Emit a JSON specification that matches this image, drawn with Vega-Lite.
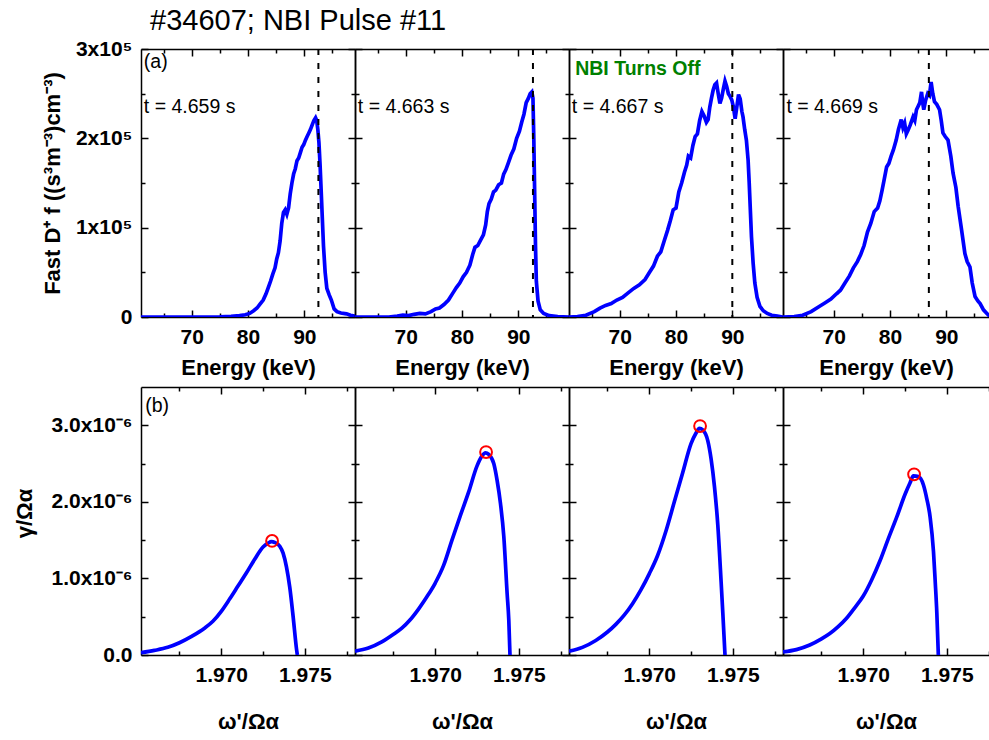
{
  "$schema": "https://vega.github.io/schema/vega-lite/v6.json",
  "padding": {"left": 13, "top": 7, "right": 0, "bottom": 15},
  "title": {"text": "#34607; NBI Pulse #11", "anchor": "start", "font": "Liberation Sans", "fontSize": 29, "fontWeight": "normal", "color": "black", "offset": 2, "dx": 137},
  "columns": 4,
  "spacing": {"row": 70, "column": 0},
  "bounds": "flush",
  "datasets": {
    "topCurves": [
      {"panel":1,"energy":61,"f":0},{"panel":1,"energy":70,"f":0},{"panel":1,"energy":75,"f":300},{"panel":1,"energy":77,"f":800},{"panel":1,"energy":78.5,"f":1500},{"panel":1,"energy":79.5,"f":2500},{"panel":1,"energy":80.3,"f":4000},{"panel":1,"energy":81,"f":7000},{"panel":1,"energy":81.6,"f":10000},{"panel":1,"energy":82.2,"f":15000},{"panel":1,"energy":82.7,"f":19000},{"panel":1,"energy":83.2,"f":26000},{"panel":1,"energy":83.6,"f":33000},{"panel":1,"energy":84,"f":40000},{"panel":1,"energy":84.4,"f":48000},{"panel":1,"energy":84.8,"f":55000},{"panel":1,"energy":85.1,"f":65000},{"panel":1,"energy":85.4,"f":72000},{"panel":1,"energy":85.7,"f":85000},{"panel":1,"energy":86,"f":105000},{"panel":1,"energy":86.3,"f":117000},{"panel":1,"energy":86.6,"f":120000},{"panel":1,"energy":86.9,"f":115000},{"panel":1,"energy":87.2,"f":122000},{"panel":1,"energy":87.5,"f":138000},{"panel":1,"energy":87.8,"f":150000},{"panel":1,"energy":88.1,"f":160000},{"panel":1,"energy":88.4,"f":166000},{"panel":1,"energy":88.7,"f":175000},{"panel":1,"energy":89,"f":178000},{"panel":1,"energy":89.3,"f":184000},{"panel":1,"energy":89.6,"f":190000},{"panel":1,"energy":89.9,"f":193000},{"panel":1,"energy":90.2,"f":198000},{"panel":1,"energy":90.5,"f":202000},{"panel":1,"energy":90.8,"f":206000},{"panel":1,"energy":91.1,"f":210000},{"panel":1,"energy":91.4,"f":215000},{"panel":1,"energy":91.7,"f":220000},{"panel":1,"energy":92,"f":223000},{"panel":1,"energy":92.2,"f":220000},{"panel":1,"energy":92.4,"f":210000},{"panel":1,"energy":92.6,"f":195000},{"panel":1,"energy":92.8,"f":170000},{"panel":1,"energy":93,"f":140000},{"panel":1,"energy":93.2,"f":110000},{"panel":1,"energy":93.4,"f":80000},{"panel":1,"energy":93.7,"f":50000},{"panel":1,"energy":94,"f":32000},{"panel":1,"energy":94.4,"f":25000},{"panel":1,"energy":94.8,"f":19000},{"panel":1,"energy":95.3,"f":9000},{"panel":1,"energy":95.8,"f":6000},{"panel":1,"energy":96.5,"f":4500},{"panel":1,"energy":97.5,"f":3500},{"panel":1,"energy":98.2,"f":2000},{"panel":1,"energy":99,"f":1000},
      {"panel":2,"energy":61,"f":0},{"panel":2,"energy":67,"f":0},{"panel":2,"energy":68.5,"f":1000},{"panel":2,"energy":69.5,"f":2000},{"panel":2,"energy":70.5,"f":1500},{"panel":2,"energy":71.5,"f":3000},{"panel":2,"energy":72.5,"f":4000},{"panel":2,"energy":73.5,"f":3500},{"panel":2,"energy":74.5,"f":6000},{"panel":2,"energy":75.3,"f":9000},{"panel":2,"energy":76,"f":10000},{"panel":2,"energy":76.8,"f":14000},{"panel":2,"energy":77.6,"f":19000},{"panel":2,"energy":78.4,"f":27000},{"panel":2,"energy":79,"f":33000},{"panel":2,"energy":79.6,"f":38000},{"panel":2,"energy":80.2,"f":45000},{"panel":2,"energy":80.8,"f":50000},{"panel":2,"energy":81.4,"f":58000},{"panel":2,"energy":81.9,"f":70000},{"panel":2,"energy":82.3,"f":78000},{"panel":2,"energy":82.8,"f":80000},{"panel":2,"energy":83.3,"f":86000},{"panel":2,"energy":83.8,"f":92000},{"panel":2,"energy":84.2,"f":103000},{"panel":2,"energy":84.5,"f":118000},{"panel":2,"energy":84.8,"f":127000},{"panel":2,"energy":85.2,"f":132000},{"panel":2,"energy":85.6,"f":140000},{"panel":2,"energy":86,"f":142000},{"panel":2,"energy":86.5,"f":148000},{"panel":2,"energy":87,"f":150000},{"panel":2,"energy":87.4,"f":160000},{"panel":2,"energy":87.8,"f":165000},{"panel":2,"energy":88.2,"f":172000},{"panel":2,"energy":88.7,"f":181000},{"panel":2,"energy":89.2,"f":188000},{"panel":2,"energy":89.7,"f":200000},{"panel":2,"energy":90.2,"f":208000},{"panel":2,"energy":90.6,"f":218000},{"panel":2,"energy":91,"f":227000},{"panel":2,"energy":91.4,"f":240000},{"panel":2,"energy":91.8,"f":245000},{"panel":2,"energy":92.1,"f":250000},{"panel":2,"energy":92.4,"f":252000},{"panel":2,"energy":92.6,"f":245000},{"panel":2,"energy":92.75,"f":200000},{"panel":2,"energy":92.9,"f":140000},{"panel":2,"energy":93.05,"f":80000},{"panel":2,"energy":93.2,"f":40000},{"panel":2,"energy":93.5,"f":18000},{"panel":2,"energy":93.9,"f":8000},{"panel":2,"energy":94.5,"f":4000},{"panel":2,"energy":95.5,"f":1500},{"panel":2,"energy":97,"f":500},{"panel":2,"energy":99,"f":0},
      {"panel":3,"energy":61,"f":0},{"panel":3,"energy":62.5,"f":500},{"panel":3,"energy":64,"f":2000},{"panel":3,"energy":65.5,"f":6000},{"panel":3,"energy":66.5,"f":10000},{"panel":3,"energy":67.5,"f":13000},{"panel":3,"energy":68.5,"f":15000},{"panel":3,"energy":69.5,"f":19000},{"panel":3,"energy":70.5,"f":22000},{"panel":3,"energy":71.5,"f":27000},{"panel":3,"energy":72.5,"f":32000},{"panel":3,"energy":73.5,"f":36000},{"panel":3,"energy":74.5,"f":42000},{"panel":3,"energy":75.3,"f":50000},{"panel":3,"energy":76,"f":57000},{"panel":3,"energy":76.7,"f":68000},{"panel":3,"energy":77.3,"f":73000},{"panel":3,"energy":77.9,"f":85000},{"panel":3,"energy":78.5,"f":97000},{"panel":3,"energy":79,"f":108000},{"panel":3,"energy":79.5,"f":120000},{"panel":3,"energy":80,"f":122000},{"panel":3,"energy":80.5,"f":140000},{"panel":3,"energy":81,"f":150000},{"panel":3,"energy":81.5,"f":162000},{"panel":3,"energy":81.9,"f":170000},{"panel":3,"energy":82.2,"f":180000},{"panel":3,"energy":82.6,"f":178000},{"panel":3,"energy":83,"f":192000},{"panel":3,"energy":83.4,"f":202000},{"panel":3,"energy":83.8,"f":205000},{"panel":3,"energy":84.2,"f":220000},{"panel":3,"energy":84.6,"f":230000},{"panel":3,"energy":85,"f":225000},{"panel":3,"energy":85.4,"f":218000},{"panel":3,"energy":85.7,"f":221000},{"panel":3,"energy":86,"f":235000},{"panel":3,"energy":86.3,"f":245000},{"panel":3,"energy":86.6,"f":254000},{"panel":3,"energy":86.9,"f":260000},{"panel":3,"energy":87.2,"f":262000},{"panel":3,"energy":87.5,"f":250000},{"panel":3,"energy":87.8,"f":239000},{"panel":3,"energy":88.1,"f":245000},{"panel":3,"energy":88.4,"f":255000},{"panel":3,"energy":88.7,"f":264000},{"panel":3,"energy":89,"f":258000},{"panel":3,"energy":89.3,"f":250000},{"panel":3,"energy":89.6,"f":247000},{"panel":3,"energy":89.9,"f":243000},{"panel":3,"energy":90.2,"f":235000},{"panel":3,"energy":90.5,"f":222000},{"panel":3,"energy":90.8,"f":235000},{"panel":3,"energy":91.1,"f":249000},{"panel":3,"energy":91.4,"f":244000},{"panel":3,"energy":91.7,"f":230000},{"panel":3,"energy":91.9,"f":224000},{"panel":3,"energy":92.2,"f":210000},{"panel":3,"energy":92.5,"f":198000},{"panel":3,"energy":92.8,"f":176000},{"panel":3,"energy":93,"f":150000},{"panel":3,"energy":93.2,"f":120000},{"panel":3,"energy":93.4,"f":90000},{"panel":3,"energy":93.7,"f":60000},{"panel":3,"energy":94,"f":38000},{"panel":3,"energy":94.4,"f":22000},{"panel":3,"energy":94.9,"f":12000},{"panel":3,"energy":95.5,"f":7000},{"panel":3,"energy":96.2,"f":4000},{"panel":3,"energy":97,"f":2000},{"panel":3,"energy":98,"f":1000},{"panel":3,"energy":99,"f":0},
      {"panel":4,"energy":61,"f":0},{"panel":4,"energy":63,"f":500},{"panel":4,"energy":64.5,"f":2000},{"panel":4,"energy":66,"f":6000},{"panel":4,"energy":67.5,"f":12000},{"panel":4,"energy":68.5,"f":16000},{"panel":4,"energy":69.5,"f":20000},{"panel":4,"energy":70.5,"f":26000},{"panel":4,"energy":71.2,"f":30000},{"panel":4,"energy":72,"f":38000},{"panel":4,"energy":72.8,"f":46000},{"panel":4,"energy":73.5,"f":55000},{"panel":4,"energy":74.2,"f":62000},{"panel":4,"energy":74.8,"f":70000},{"panel":4,"energy":75.4,"f":80000},{"panel":4,"energy":76,"f":95000},{"panel":4,"energy":76.6,"f":105000},{"panel":4,"energy":77.2,"f":118000},{"panel":4,"energy":77.8,"f":122000},{"panel":4,"energy":78.2,"f":130000},{"panel":4,"energy":78.6,"f":142000},{"panel":4,"energy":79,"f":155000},{"panel":4,"energy":79.4,"f":168000},{"panel":4,"energy":79.8,"f":172000},{"panel":4,"energy":80.2,"f":180000},{"panel":4,"energy":80.6,"f":187000},{"panel":4,"energy":81.1,"f":198000},{"panel":4,"energy":81.5,"f":210000},{"panel":4,"energy":82,"f":221000},{"panel":4,"energy":82.3,"f":212000},{"panel":4,"energy":82.6,"f":217000},{"panel":4,"energy":82.9,"f":205000},{"panel":4,"energy":83.2,"f":209000},{"panel":4,"energy":83.6,"f":215000},{"panel":4,"energy":84.1,"f":224000},{"panel":4,"energy":84.4,"f":220000},{"panel":4,"energy":84.7,"f":232000},{"panel":4,"energy":85,"f":236000},{"panel":4,"energy":85.3,"f":240000},{"panel":4,"energy":85.6,"f":252000},{"panel":4,"energy":85.8,"f":240000},{"panel":4,"energy":86,"f":232000},{"panel":4,"energy":86.3,"f":242000},{"panel":4,"energy":86.7,"f":250000},{"panel":4,"energy":87,"f":248000},{"panel":4,"energy":87.3,"f":263000},{"panel":4,"energy":87.6,"f":250000},{"panel":4,"energy":87.9,"f":241000},{"panel":4,"energy":88.3,"f":238000},{"panel":4,"energy":88.8,"f":232000},{"panel":4,"energy":89.1,"f":220000},{"panel":4,"energy":89.4,"f":206000},{"panel":4,"energy":89.8,"f":202000},{"panel":4,"energy":90.3,"f":198000},{"panel":4,"energy":90.8,"f":180000},{"panel":4,"energy":91.2,"f":161000},{"panel":4,"energy":91.7,"f":145000},{"panel":4,"energy":92.1,"f":124000},{"panel":4,"energy":92.7,"f":98000},{"panel":4,"energy":93.3,"f":71000},{"panel":4,"energy":93.7,"f":62000},{"panel":4,"energy":94.2,"f":56000},{"panel":4,"energy":94.6,"f":38000},{"panel":4,"energy":95.1,"f":23000},{"panel":4,"energy":95.6,"f":18000},{"panel":4,"energy":96,"f":15000},{"panel":4,"energy":96.6,"f":8000},{"panel":4,"energy":97.2,"f":4000},{"panel":4,"energy":97.5,"f":2000},{"panel":4,"energy":98,"f":1000}
    ],
    "topMarkers": [
      {"panel":1,"energy":92.5},{"panel":2,"energy":92.6},{"panel":3,"energy":90.0},{"panel":4,"energy":86.9}
    ],
    "topNotes": [
      {"panel":1,"energy":61.5,"f":285500,"label":"(a)"},
      {"panel":1,"energy":61.5,"f":235000,"label":"t = 4.659 s"},
      {"panel":2,"energy":61.5,"f":235000,"label":"t = 4.663 s"},
      {"panel":3,"energy":61.5,"f":235000,"label":"t = 4.667 s"},
      {"panel":4,"energy":61.6,"f":235000,"label":"t = 4.669 s"}
    ],
    "nbiNote": [
      {"panel":3,"energy":62.1,"f":278000,"label":"NBI Turns Off"}
    ],
    "growth": [
      {"panel":1,"omega":1.9652,"g":0.03e-6},{"panel":1,"omega":1.966,"g":0.06e-6},{"panel":1,"omega":1.9668,"g":0.1e-6},{"panel":1,"omega":1.9675,"g":0.16e-6},{"panel":1,"omega":1.9682,"g":0.24e-6},{"panel":1,"omega":1.969,"g":0.35e-6},{"panel":1,"omega":1.9695,"g":0.44e-6},{"panel":1,"omega":1.97,"g":0.57e-6},{"panel":1,"omega":1.9705,"g":0.73e-6},{"panel":1,"omega":1.971,"g":0.9e-6},{"panel":1,"omega":1.9715,"g":1.07e-6},{"panel":1,"omega":1.972,"g":1.25e-6},{"panel":1,"omega":1.9725,"g":1.41e-6},{"panel":1,"omega":1.9728,"g":1.46e-6},{"panel":1,"omega":1.973,"g":1.48e-6},{"panel":1,"omega":1.9732,"g":1.47e-6},{"panel":1,"omega":1.9735,"g":1.42e-6},{"panel":1,"omega":1.9737,"g":1.33e-6},{"panel":1,"omega":1.9739,"g":1.15e-6},{"panel":1,"omega":1.9741,"g":0.88e-6},{"panel":1,"omega":1.9743,"g":0.5e-6},{"panel":1,"omega":1.9745,"g":0.08e-6},{"panel":1,"omega":1.97455,"g":0},
      {"panel":2,"omega":1.9652,"g":0.05e-6},{"panel":2,"omega":1.966,"g":0.09e-6},{"panel":2,"omega":1.9668,"g":0.17e-6},{"panel":2,"omega":1.9675,"g":0.27e-6},{"panel":2,"omega":1.968,"g":0.35e-6},{"panel":2,"omega":1.9685,"g":0.46e-6},{"panel":2,"omega":1.969,"g":0.6e-6},{"panel":2,"omega":1.9695,"g":0.76e-6},{"panel":2,"omega":1.97,"g":0.94e-6},{"panel":2,"omega":1.9705,"g":1.17e-6},{"panel":2,"omega":1.971,"g":1.5e-6},{"panel":2,"omega":1.9715,"g":1.82e-6},{"panel":2,"omega":1.972,"g":2.13e-6},{"panel":2,"omega":1.9725,"g":2.47e-6},{"panel":2,"omega":1.9728,"g":2.6e-6},{"panel":2,"omega":1.973,"g":2.64e-6},{"panel":2,"omega":1.9732,"g":2.62e-6},{"panel":2,"omega":1.9735,"g":2.5e-6},{"panel":2,"omega":1.9737,"g":2.28e-6},{"panel":2,"omega":1.9739,"g":1.98e-6},{"panel":2,"omega":1.9741,"g":1.55e-6},{"panel":2,"omega":1.9743,"g":0.8e-6},{"panel":2,"omega":1.9744,"g":0.45e-6},{"panel":2,"omega":1.97447,"g":0},
      {"panel":3,"omega":1.9652,"g":0.05e-6},{"panel":3,"omega":1.966,"g":0.1e-6},{"panel":3,"omega":1.9668,"g":0.19e-6},{"panel":3,"omega":1.9675,"g":0.3e-6},{"panel":3,"omega":1.968,"g":0.4e-6},{"panel":3,"omega":1.9685,"g":0.52e-6},{"panel":3,"omega":1.969,"g":0.67e-6},{"panel":3,"omega":1.9695,"g":0.85e-6},{"panel":3,"omega":1.97,"g":1.06e-6},{"panel":3,"omega":1.9705,"g":1.3e-6},{"panel":3,"omega":1.971,"g":1.62e-6},{"panel":3,"omega":1.9715,"g":2.0e-6},{"panel":3,"omega":1.972,"g":2.38e-6},{"panel":3,"omega":1.9725,"g":2.76e-6},{"panel":3,"omega":1.9728,"g":2.9e-6},{"panel":3,"omega":1.973,"g":2.96e-6},{"panel":3,"omega":1.9732,"g":2.94e-6},{"panel":3,"omega":1.9735,"g":2.8e-6},{"panel":3,"omega":1.9737,"g":2.56e-6},{"panel":3,"omega":1.9739,"g":2.2e-6},{"panel":3,"omega":1.9741,"g":1.7e-6},{"panel":3,"omega":1.9743,"g":0.95e-6},{"panel":3,"omega":1.9744,"g":0.55e-6},{"panel":3,"omega":1.97453,"g":0},
      {"panel":4,"omega":1.9652,"g":0.04e-6},{"panel":4,"omega":1.966,"g":0.07e-6},{"panel":4,"omega":1.9668,"g":0.13e-6},{"panel":4,"omega":1.9675,"g":0.21e-6},{"panel":4,"omega":1.968,"g":0.28e-6},{"panel":4,"omega":1.9685,"g":0.37e-6},{"panel":4,"omega":1.969,"g":0.48e-6},{"panel":4,"omega":1.9695,"g":0.62e-6},{"panel":4,"omega":1.97,"g":0.77e-6},{"panel":4,"omega":1.9705,"g":0.98e-6},{"panel":4,"omega":1.971,"g":1.23e-6},{"panel":4,"omega":1.9715,"g":1.52e-6},{"panel":4,"omega":1.972,"g":1.8e-6},{"panel":4,"omega":1.9725,"g":2.1e-6},{"panel":4,"omega":1.9728,"g":2.25e-6},{"panel":4,"omega":1.973,"g":2.34e-6},{"panel":4,"omega":1.9733,"g":2.33e-6},{"panel":4,"omega":1.9736,"g":2.22e-6},{"panel":4,"omega":1.9738,"g":2.04e-6},{"panel":4,"omega":1.974,"g":1.8e-6},{"panel":4,"omega":1.9742,"g":1.35e-6},{"panel":4,"omega":1.9743,"g":0.97e-6},{"panel":4,"omega":1.9744,"g":0.55e-6},{"panel":4,"omega":1.97449,"g":0}
    ],
    "peaks": [
      {"panel":1,"omega":1.97304,"g":1.49e-6},{"panel":2,"omega":1.97304,"g":2.65e-6},{"panel":3,"omega":1.97304,"g":2.99e-6},{"panel":4,"omega":1.97304,"g":2.36e-6}
    ],
    "bottomNotes": [
      {"panel":1,"omega":1.96545,"g":3.25e-6,"label":"(b)"}
    ]
  },
  "concat": [
    {
      "width": 214, "height": 268,
      "layer": [
        {"data": {"name": "topCurves"}, "transform": [{"filter": "datum.panel == 1"}],
         "mark": {"type": "line", "color": "#0000ff", "strokeWidth": 3.7, "clip": true},
         "encoding": {
           "x": {"field": "energy", "type": "quantitative", "scale": {"domain": [61, 99], "nice": false, "zero": false},
                 "axis": {"orient": "bottom", "values": [65,70,75,80,85,90,95], "labelExpr": "datum.value % 10 == 0 ? format(datum.value, 'd') : ''", "tickDash": {"condition": {"test": "datum.value % 10 != 0", "value": [4, 40]}, "value": [40, 0]}, "title": "Energy (keV)", "titleY": 57, "titleBaseline": "alphabetic"}},
           "y": {"field": "f", "type": "quantitative", "scale": {"domain": [0, 300000], "nice": false},
                 "axis": {"orient": "left", "values": [0,50000,100000,150000,200000,250000,300000], "labelExpr": "datum.value == 0 ? '0' : (datum.value % 100000 == 0 ? format(datum.value / 100000, 'd') + 'x10⁵' : '')", "labelBaseline": "middle", "tickDash": {"condition": {"test": "datum.value % 100000 != 0", "value": [4, 40]}, "value": [40, 0]}, "title": "Fast D⁺ f ((s³m⁻³)cm⁻³)", "titleX": -82, "titleBaseline": "alphabetic"}}
         }},
        {"data": {"name": "topMarkers"}, "transform": [{"filter": "datum.panel == 1"}],
         "mark": {"type": "rule", "color": "black", "strokeWidth": 2, "strokeDash": [6, 8]},
         "encoding": {
           "x": {"field": "energy", "type": "quantitative", "scale": {"domain": [61, 99], "nice": false, "zero": false},
                 "axis": {"orient": "top", "values": [65,70,75,80,85,90,95], "labels": false, "tickDash": {"condition": {"test": "datum.value % 10 != 0", "value": [4, 40]}, "value": [40, 0]}, "title": null}}
         }},
        {"data": {"name": "topNotes"}, "transform": [{"filter": "datum.panel == 1"}],
         "mark": {"type": "text", "align": "left", "baseline": "middle", "font": "Liberation Sans", "fontSize": 19.5, "color": "black"},
         "encoding": {
           "x": {"field": "energy", "type": "quantitative", "scale": {"domain": [61, 99], "nice": false, "zero": false}, "axis": null},
           "y": {"field": "f", "type": "quantitative", "scale": {"domain": [0, 300000], "nice": false},
                 "axis": {"orient": "right", "values": [0,50000,100000,150000,200000,250000,300000], "labels": false, "tickDash": {"condition": {"test": "datum.value % 100000 != 0", "value": [4, 40]}, "value": [40, 0]}, "title": null}},
           "text": {"field": "label"}
         }}
      ],
      "resolve": {"axis": {"x": "independent", "y": "independent"}}
    },
    {
      "width": 214, "height": 268,
      "layer": [
        {"data": {"name": "topCurves"}, "transform": [{"filter": "datum.panel == 2"}],
         "mark": {"type": "line", "color": "#0000ff", "strokeWidth": 3.7, "clip": true},
         "encoding": {
           "x": {"field": "energy", "type": "quantitative", "scale": {"domain": [61, 99], "nice": false, "zero": false},
                 "axis": {"orient": "bottom", "values": [65,70,75,80,85,90,95], "labelExpr": "datum.value % 10 == 0 ? format(datum.value, 'd') : ''", "tickDash": {"condition": {"test": "datum.value % 10 != 0", "value": [4, 40]}, "value": [40, 0]}, "title": "Energy (keV)", "titleY": 57, "titleBaseline": "alphabetic"}},
           "y": {"field": "f", "type": "quantitative", "scale": {"domain": [0, 300000], "nice": false},
                 "axis": {"orient": "left", "values": [0,50000,100000,150000,200000,250000,300000], "labels": false, "tickDash": {"condition": {"test": "datum.value % 100000 != 0", "value": [4, 40]}, "value": [40, 0]}, "title": null}}
         }},
        {"data": {"name": "topMarkers"}, "transform": [{"filter": "datum.panel == 2"}],
         "mark": {"type": "rule", "color": "black", "strokeWidth": 2, "strokeDash": [6, 8]},
         "encoding": {
           "x": {"field": "energy", "type": "quantitative", "scale": {"domain": [61, 99], "nice": false, "zero": false},
                 "axis": {"orient": "top", "values": [65,70,75,80,85,90,95], "labels": false, "tickDash": {"condition": {"test": "datum.value % 10 != 0", "value": [4, 40]}, "value": [40, 0]}, "title": null}}
         }},
        {"data": {"name": "topNotes"}, "transform": [{"filter": "datum.panel == 2"}],
         "mark": {"type": "text", "align": "left", "baseline": "middle", "font": "Liberation Sans", "fontSize": 19.5, "color": "black"},
         "encoding": {
           "x": {"field": "energy", "type": "quantitative", "scale": {"domain": [61, 99], "nice": false, "zero": false}, "axis": null},
           "y": {"field": "f", "type": "quantitative", "scale": {"domain": [0, 300000], "nice": false},
                 "axis": {"orient": "right", "values": [0,50000,100000,150000,200000,250000,300000], "labels": false, "tickDash": {"condition": {"test": "datum.value % 100000 != 0", "value": [4, 40]}, "value": [40, 0]}, "title": null}},
           "text": {"field": "label"}
         }}
      ],
      "resolve": {"axis": {"x": "independent", "y": "independent"}}
    },
    {
      "width": 214, "height": 268,
      "layer": [
        {"data": {"name": "topCurves"}, "transform": [{"filter": "datum.panel == 3"}],
         "mark": {"type": "line", "color": "#0000ff", "strokeWidth": 3.7, "clip": true},
         "encoding": {
           "x": {"field": "energy", "type": "quantitative", "scale": {"domain": [61, 99], "nice": false, "zero": false},
                 "axis": {"orient": "bottom", "values": [65,70,75,80,85,90,95], "labelExpr": "datum.value % 10 == 0 ? format(datum.value, 'd') : ''", "tickDash": {"condition": {"test": "datum.value % 10 != 0", "value": [4, 40]}, "value": [40, 0]}, "title": "Energy (keV)", "titleY": 57, "titleBaseline": "alphabetic"}},
           "y": {"field": "f", "type": "quantitative", "scale": {"domain": [0, 300000], "nice": false},
                 "axis": {"orient": "left", "values": [0,50000,100000,150000,200000,250000,300000], "labels": false, "tickDash": {"condition": {"test": "datum.value % 100000 != 0", "value": [4, 40]}, "value": [40, 0]}, "title": null}}
         }},
        {"data": {"name": "topMarkers"}, "transform": [{"filter": "datum.panel == 3"}],
         "mark": {"type": "rule", "color": "black", "strokeWidth": 2, "strokeDash": [6, 8]},
         "encoding": {
           "x": {"field": "energy", "type": "quantitative", "scale": {"domain": [61, 99], "nice": false, "zero": false},
                 "axis": {"orient": "top", "values": [65,70,75,80,85,90,95], "labels": false, "tickDash": {"condition": {"test": "datum.value % 10 != 0", "value": [4, 40]}, "value": [40, 0]}, "title": null}}
         }},
        {"data": {"name": "topNotes"}, "transform": [{"filter": "datum.panel == 3"}],
         "mark": {"type": "text", "align": "left", "baseline": "middle", "font": "Liberation Sans", "fontSize": 19.5, "color": "black"},
         "encoding": {
           "x": {"field": "energy", "type": "quantitative", "scale": {"domain": [61, 99], "nice": false, "zero": false}, "axis": null},
           "y": {"field": "f", "type": "quantitative", "scale": {"domain": [0, 300000], "nice": false},
                 "axis": {"orient": "right", "values": [0,50000,100000,150000,200000,250000,300000], "labels": false, "tickDash": {"condition": {"test": "datum.value % 100000 != 0", "value": [4, 40]}, "value": [40, 0]}, "title": null}},
           "text": {"field": "label"}
         }},
        {"data": {"name": "nbiNote"},
         "mark": {"type": "text", "align": "left", "baseline": "middle", "font": "Liberation Sans", "fontSize": 19.5, "fontWeight": "bold", "color": "#008000"},
         "encoding": {
           "x": {"field": "energy", "type": "quantitative", "scale": {"domain": [61, 99], "nice": false, "zero": false}, "axis": null},
           "y": {"field": "f", "type": "quantitative", "scale": {"domain": [0, 300000], "nice": false}, "axis": null},
           "text": {"field": "label"}
         }}
      ],
      "resolve": {"axis": {"x": "independent", "y": "independent"}}
    },
    {
      "width": 206, "height": 268,
      "layer": [
        {"data": {"name": "topCurves"}, "transform": [{"filter": "datum.panel == 4"}],
         "mark": {"type": "line", "color": "#0000ff", "strokeWidth": 3.7, "clip": true},
         "encoding": {
           "x": {"field": "energy", "type": "quantitative", "scale": {"domain": [61, 97.58], "nice": false, "zero": false},
                 "axis": {"orient": "bottom", "values": [65,70,75,80,85,90,95], "labelExpr": "datum.value % 10 == 0 ? format(datum.value, 'd') : ''", "tickDash": {"condition": {"test": "datum.value % 10 != 0", "value": [4, 40]}, "value": [40, 0]}, "title": "Energy (keV)", "titleY": 57, "titleBaseline": "alphabetic"}},
           "y": {"field": "f", "type": "quantitative", "scale": {"domain": [0, 300000], "nice": false},
                 "axis": {"orient": "left", "values": [0,50000,100000,150000,200000,250000,300000], "labels": false, "tickDash": {"condition": {"test": "datum.value % 100000 != 0", "value": [4, 40]}, "value": [40, 0]}, "title": null}}
         }},
        {"data": {"name": "topMarkers"}, "transform": [{"filter": "datum.panel == 4"}],
         "mark": {"type": "rule", "color": "black", "strokeWidth": 2, "strokeDash": [6, 8]},
         "encoding": {
           "x": {"field": "energy", "type": "quantitative", "scale": {"domain": [61, 97.58], "nice": false, "zero": false},
                 "axis": {"orient": "top", "values": [65,70,75,80,85,90,95], "labels": false, "tickDash": {"condition": {"test": "datum.value % 10 != 0", "value": [4, 40]}, "value": [40, 0]}, "title": null}}
         }},
        {"data": {"name": "topNotes"}, "transform": [{"filter": "datum.panel == 4"}],
         "mark": {"type": "text", "align": "left", "baseline": "middle", "font": "Liberation Sans", "fontSize": 19.5, "color": "black"},
         "encoding": {
           "x": {"field": "energy", "type": "quantitative", "scale": {"domain": [61, 97.58], "nice": false, "zero": false}, "axis": null},
           "y": {"field": "f", "type": "quantitative", "scale": {"domain": [0, 300000], "nice": false}, "axis": null},
           "text": {"field": "label"}
         }}
      ],
      "resolve": {"axis": {"x": "independent", "y": "independent"}}
    },
    {
      "width": 214, "height": 268,
      "layer": [
        {"data": {"name": "growth"}, "transform": [{"filter": "datum.panel == 1"}],
         "mark": {"type": "line", "color": "#0000ff", "strokeWidth": 3.7, "clip": true, "interpolate": "monotone"},
         "encoding": {
           "x": {"field": "omega", "type": "quantitative", "scale": {"domain": [1.9652, 1.978], "nice": false, "zero": false},
                 "axis": {"orient": "bottom", "values": [1.9675, 1.97, 1.9725, 1.975, 1.9775], "labelExpr": "round(datum.value * 10000) % 50 == 0 ? format(datum.value, '.3f') : ''", "tickDash": {"condition": {"test": "round(datum.value * 10000) % 50 != 0", "value": [4, 40]}, "value": [40, 0]}, "title": "ω'/Ωα", "titleY": 73, "titleBaseline": "alphabetic"}},
           "y": {"field": "g", "type": "quantitative", "scale": {"domain": [0, 3.5e-6], "nice": false},
                 "axis": {"orient": "left", "values": [0, 5e-7, 1e-6, 1.5e-6, 2e-6, 2.5e-6, 3e-6], "labelExpr": "datum.value == 0 ? '0.0' : (round(datum.value * 1e7) % 10 == 0 ? format(datum.value * 1e6, '.1f') + 'x10⁻⁶' : '')", "labelBaseline": "middle", "tickDash": {"condition": {"test": "round(datum.value * 1e7) % 10 != 0", "value": [4, 40]}, "value": [40, 0]}, "title": "γ/Ωα", "titleX": -110, "titleY": 126, "titleBaseline": "alphabetic"}}
         }},
        {"data": {"name": "peaks"}, "transform": [{"filter": "datum.panel == 1"}],
         "mark": {"type": "point", "shape": "circle", "filled": false, "color": "#ff0000", "strokeWidth": 2, "size": 140, "opacity": 1},
         "encoding": {
           "x": {"field": "omega", "type": "quantitative", "scale": {"domain": [1.9652, 1.978], "nice": false, "zero": false},
                 "axis": {"orient": "top", "values": [1.9675, 1.97, 1.9725, 1.975, 1.9775], "labels": false, "tickDash": {"condition": {"test": "round(datum.value * 10000) % 50 != 0", "value": [4, 40]}, "value": [40, 0]}, "title": null}},
           "y": {"field": "g", "type": "quantitative", "scale": {"domain": [0, 3.5e-6], "nice": false},
                 "axis": {"orient": "right", "values": [0, 5e-7, 1e-6, 1.5e-6, 2e-6, 2.5e-6, 3e-6], "labels": false, "tickDash": {"condition": {"test": "round(datum.value * 1e7) % 10 != 0", "value": [4, 40]}, "value": [40, 0]}, "title": null}}
         }},
        {"data": {"name": "bottomNotes"},
         "mark": {"type": "text", "align": "left", "baseline": "middle", "font": "Liberation Sans", "fontSize": 19.5, "color": "black"},
         "encoding": {
           "x": {"field": "omega", "type": "quantitative", "scale": {"domain": [1.9652, 1.978], "nice": false, "zero": false}, "axis": null},
           "y": {"field": "g", "type": "quantitative", "scale": {"domain": [0, 3.5e-6], "nice": false}, "axis": null},
           "text": {"field": "label"}
         }}
      ],
      "resolve": {"axis": {"x": "independent", "y": "independent"}}
    },
    {
      "width": 214, "height": 268,
      "layer": [
        {"data": {"name": "growth"}, "transform": [{"filter": "datum.panel == 2"}],
         "mark": {"type": "line", "color": "#0000ff", "strokeWidth": 3.7, "clip": true, "interpolate": "monotone"},
         "encoding": {
           "x": {"field": "omega", "type": "quantitative", "scale": {"domain": [1.9652, 1.978], "nice": false, "zero": false},
                 "axis": {"orient": "bottom", "values": [1.9675, 1.97, 1.9725, 1.975, 1.9775], "labelExpr": "round(datum.value * 10000) % 50 == 0 ? format(datum.value, '.3f') : ''", "tickDash": {"condition": {"test": "round(datum.value * 10000) % 50 != 0", "value": [4, 40]}, "value": [40, 0]}, "title": "ω'/Ωα", "titleY": 73, "titleBaseline": "alphabetic"}},
           "y": {"field": "g", "type": "quantitative", "scale": {"domain": [0, 3.5e-6], "nice": false},
                 "axis": {"orient": "left", "values": [0, 5e-7, 1e-6, 1.5e-6, 2e-6, 2.5e-6, 3e-6], "labels": false, "tickDash": {"condition": {"test": "round(datum.value * 1e7) % 10 != 0", "value": [4, 40]}, "value": [40, 0]}, "title": null}}
         }},
        {"data": {"name": "peaks"}, "transform": [{"filter": "datum.panel == 2"}],
         "mark": {"type": "point", "shape": "circle", "filled": false, "color": "#ff0000", "strokeWidth": 2, "size": 140, "opacity": 1},
         "encoding": {
           "x": {"field": "omega", "type": "quantitative", "scale": {"domain": [1.9652, 1.978], "nice": false, "zero": false},
                 "axis": {"orient": "top", "values": [1.9675, 1.97, 1.9725, 1.975, 1.9775], "labels": false, "tickDash": {"condition": {"test": "round(datum.value * 10000) % 50 != 0", "value": [4, 40]}, "value": [40, 0]}, "title": null}},
           "y": {"field": "g", "type": "quantitative", "scale": {"domain": [0, 3.5e-6], "nice": false},
                 "axis": {"orient": "right", "values": [0, 5e-7, 1e-6, 1.5e-6, 2e-6, 2.5e-6, 3e-6], "labels": false, "tickDash": {"condition": {"test": "round(datum.value * 1e7) % 10 != 0", "value": [4, 40]}, "value": [40, 0]}, "title": null}}
         }}
      ],
      "resolve": {"axis": {"x": "independent", "y": "independent"}}
    },
    {
      "width": 214, "height": 268,
      "layer": [
        {"data": {"name": "growth"}, "transform": [{"filter": "datum.panel == 3"}],
         "mark": {"type": "line", "color": "#0000ff", "strokeWidth": 3.7, "clip": true, "interpolate": "monotone"},
         "encoding": {
           "x": {"field": "omega", "type": "quantitative", "scale": {"domain": [1.9652, 1.978], "nice": false, "zero": false},
                 "axis": {"orient": "bottom", "values": [1.9675, 1.97, 1.9725, 1.975, 1.9775], "labelExpr": "round(datum.value * 10000) % 50 == 0 ? format(datum.value, '.3f') : ''", "tickDash": {"condition": {"test": "round(datum.value * 10000) % 50 != 0", "value": [4, 40]}, "value": [40, 0]}, "title": "ω'/Ωα", "titleY": 73, "titleBaseline": "alphabetic"}},
           "y": {"field": "g", "type": "quantitative", "scale": {"domain": [0, 3.5e-6], "nice": false},
                 "axis": {"orient": "left", "values": [0, 5e-7, 1e-6, 1.5e-6, 2e-6, 2.5e-6, 3e-6], "labels": false, "tickDash": {"condition": {"test": "round(datum.value * 1e7) % 10 != 0", "value": [4, 40]}, "value": [40, 0]}, "title": null}}
         }},
        {"data": {"name": "peaks"}, "transform": [{"filter": "datum.panel == 3"}],
         "mark": {"type": "point", "shape": "circle", "filled": false, "color": "#ff0000", "strokeWidth": 2, "size": 140, "opacity": 1},
         "encoding": {
           "x": {"field": "omega", "type": "quantitative", "scale": {"domain": [1.9652, 1.978], "nice": false, "zero": false},
                 "axis": {"orient": "top", "values": [1.9675, 1.97, 1.9725, 1.975, 1.9775], "labels": false, "tickDash": {"condition": {"test": "round(datum.value * 10000) % 50 != 0", "value": [4, 40]}, "value": [40, 0]}, "title": null}},
           "y": {"field": "g", "type": "quantitative", "scale": {"domain": [0, 3.5e-6], "nice": false},
                 "axis": {"orient": "right", "values": [0, 5e-7, 1e-6, 1.5e-6, 2e-6, 2.5e-6, 3e-6], "labels": false, "tickDash": {"condition": {"test": "round(datum.value * 1e7) % 10 != 0", "value": [4, 40]}, "value": [40, 0]}, "title": null}}
         }}
      ],
      "resolve": {"axis": {"x": "independent", "y": "independent"}}
    },
    {
      "width": 206, "height": 268,
      "layer": [
        {"data": {"name": "growth"}, "transform": [{"filter": "datum.panel == 4"}],
         "mark": {"type": "line", "color": "#0000ff", "strokeWidth": 3.7, "clip": true, "interpolate": "monotone"},
         "encoding": {
           "x": {"field": "omega", "type": "quantitative", "scale": {"domain": [1.9652, 1.97752], "nice": false, "zero": false},
                 "axis": {"orient": "bottom", "values": [1.9675, 1.97, 1.9725, 1.975, 1.9775], "labelExpr": "round(datum.value * 10000) % 50 == 0 ? format(datum.value, '.3f') : ''", "tickDash": {"condition": {"test": "round(datum.value * 10000) % 50 != 0", "value": [4, 40]}, "value": [40, 0]}, "title": "ω'/Ωα", "titleY": 73, "titleBaseline": "alphabetic"}},
           "y": {"field": "g", "type": "quantitative", "scale": {"domain": [0, 3.5e-6], "nice": false},
                 "axis": {"orient": "left", "values": [0, 5e-7, 1e-6, 1.5e-6, 2e-6, 2.5e-6, 3e-6], "labels": false, "tickDash": {"condition": {"test": "round(datum.value * 1e7) % 10 != 0", "value": [4, 40]}, "value": [40, 0]}, "title": null}}
         }},
        {"data": {"name": "peaks"}, "transform": [{"filter": "datum.panel == 4"}],
         "mark": {"type": "point", "shape": "circle", "filled": false, "color": "#ff0000", "strokeWidth": 2, "size": 140, "opacity": 1},
         "encoding": {
           "x": {"field": "omega", "type": "quantitative", "scale": {"domain": [1.9652, 1.97752], "nice": false, "zero": false},
                 "axis": {"orient": "top", "values": [1.9675, 1.97, 1.9725, 1.975, 1.9775], "labels": false, "tickDash": {"condition": {"test": "round(datum.value * 10000) % 50 != 0", "value": [4, 40]}, "value": [40, 0]}, "title": null}},
           "y": {"field": "g", "type": "quantitative", "scale": {"domain": [0, 3.5e-6], "nice": false}, "axis": null}
         }}
      ],
      "resolve": {"axis": {"x": "independent", "y": "independent"}}
    }
  ],
  "config": {
    "view": {"stroke": null},
    "axis": {"domainColor": "black", "domainWidth": 1.5, "tickColor": "black", "tickWidth": 1.5, "tickSize": -7, "labelPadding": 16,
             "labelFont": "Liberation Sans", "labelFontSize": 21, "labelFontWeight": "bold", "labelColor": "black",
             "titleFont": "Liberation Sans", "titleFontSize": 22, "titleFontWeight": "bold", "titleColor": "black",
             "grid": false, "labelFlush": false, "labelOverlap": false}
  }
}
